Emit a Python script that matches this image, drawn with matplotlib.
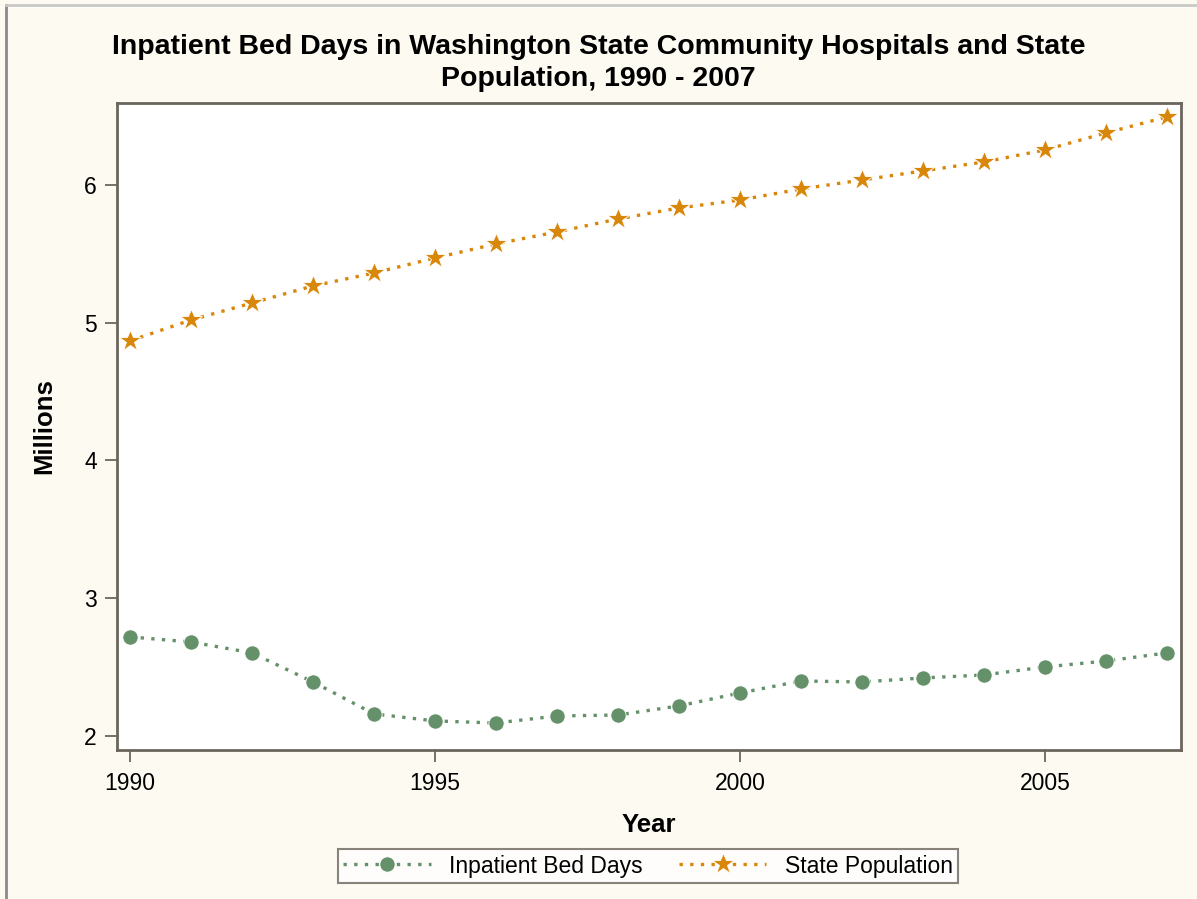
import matplotlib
matplotlib.use('Agg')
import matplotlib.pyplot as plt
from matplotlib.lines import Line2D

years = list(range(1990, 2008))
bed_days = [2.719, 2.682, 2.603, 2.392, 2.160, 2.109, 2.094, 2.145, 2.152,
            2.218, 2.312, 2.399, 2.392, 2.421, 2.443, 2.501, 2.544, 2.603]
population = [4.868, 5.020, 5.143, 5.267, 5.361, 5.470, 5.572, 5.659, 5.753,
              5.833, 5.891, 5.971, 6.036, 6.102, 6.167, 6.254, 6.378, 6.494]
xticks = [1990, 1995, 2000, 2005]
yticks = [2, 3, 4, 5, 6]

plt.rcParams['font.family'] = ['Liberation Sans', 'DejaVu Sans']

bg = '#fdfaf2'
frame = '#6b665c'
green = '#64906a'
orange = '#d9870b'

fig = plt.figure(figsize=(11.97, 8.99), dpi=100, facecolor=bg)
ax = fig.add_axes([117/1197, 1-750/899, (1181-117)/1197, (750-103)/899])
ax.set_facecolor('white')

ax.plot(years, bed_days, color=green, linestyle=(0, (1, 2.2)), linewidth=2.4,
        marker='o', markersize=11, markerfacecolor=green, markeredgecolor='white',
        markeredgewidth=0.6, label='Inpatient Bed Days')
ax.plot(years, population, color=orange, linestyle=(0, (1, 2.2)), linewidth=2.4,
        marker='*', markersize=16.5, markerfacecolor=orange, markeredgecolor='white',
        markeredgewidth=0.6, label='State Population')

ax.set_xlim(1989.787, 2007.23)
ax.set_ylim(1.898, 6.595)
ax.set_xticks(xticks)
ax.set_yticks(yticks)
ax.tick_params(direction='out', length=8.5, width=1.3, color=frame,
               labelsize=16.5)
ax.tick_params(axis='x', pad=7)
ax.tick_params(axis='y', pad=6)
for s in ax.spines.values():
    s.set_color(frame)
    s.set_linewidth(2)

ax.set_xlabel('Year', fontsize=18.5, fontweight='bold')
ax.set_ylabel('Millions', fontsize=18.5, fontweight='bold')
ax.xaxis.set_label_coords(0.5, -0.116)
ax.yaxis.set_label_coords(-0.068, 0.5)
ax.xaxis.label.set_va('center')
ax.yaxis.label.set_va('center')

fig.text(0.5, 1-63/899,
         'Inpatient Bed Days in Washington State Community Hospitals and State\nPopulation, 1990 - 2007',
         ha='center', va='center', fontsize=20.5, fontweight='bold', linespacing=1.25)

leg = fig.legend(loc='center', bbox_to_anchor=(648/1197, 1-866/899), ncol=2,
                 fontsize=16.5, frameon=True, fancybox=False, handlelength=3.8,
                 columnspacing=1.6, borderpad=0.25, handletextpad=0.8,
                 borderaxespad=0.2)
leg.get_frame().set_edgecolor(frame)
leg.get_frame().set_linewidth(1.5)
leg.get_frame().set_facecolor('white')

# window-like border on left and top
fig.add_artist(Line2D([6/1197, 6/1197], [0, 1-5/899], color='#8a8a8a', linewidth=2,
                      transform=fig.transFigure))
fig.add_artist(Line2D([6/1197, 1], [1-5/899, 1-5/899], color='#c8c8c8', linewidth=2,
                      transform=fig.transFigure))

fig.savefig('out.png', dpi=100, facecolor=bg)
